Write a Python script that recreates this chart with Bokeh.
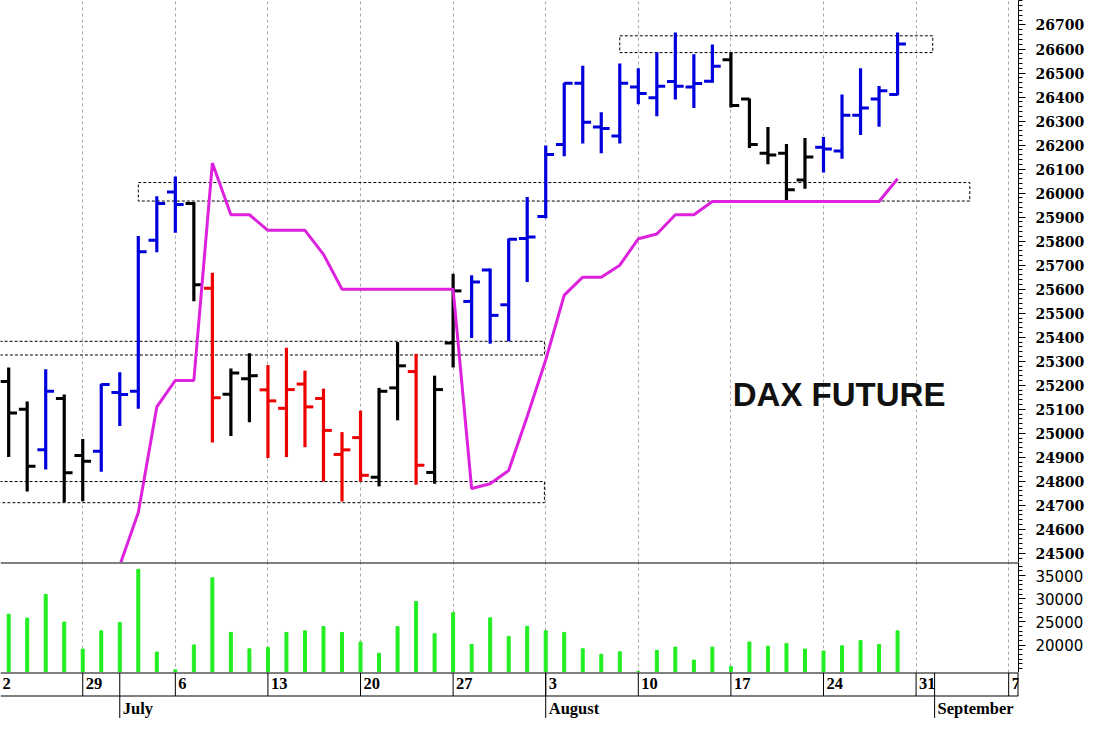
import numpy as np
from bokeh.plotting import figure
from bokeh.models import ColumnDataSource, Range1d, FixedTicker, Grid, Span, Label
from bokeh.layouts import column
from bokeh.core.properties import value
from bokeh.embed import file_html
from bokeh.resources import INLINE

# ---------------- data ----------------
# trading-session index: 0 = Monday 22 June, 5 trading days per week
session = list(range(1, 50))  # 23 June .. 28 August

open_ = [25216, 25100, 24931, 25145, 24908, 24925, 25170, 25175, 25804, 26005,
         25957, 25604, 25163, 25227, 25181, 25104, 25205, 25145, 24912, 24982,
         24817, 25189, 25257, 24837, 25376, 25549, 25680, 25535, 25811, 25903,
         26202, 26457, 26275, 26238, 26442, 26397, 26465, 26442, 26466, 26555,
         26392, 26166, 26166, 26055, 26191, 26175, 26324, 26392, 26411]
high = [25274, 25132, 25267, 25162, 24976, 25206, 25254, 25821, 25987, 26069,
        25963, 25668, 25270, 25333, 25284, 25356, 25261, 25186, 25005, 25094,
        25189, 25380, 25331, 25240, 25664, 25658, 25686, 25811, 25984, 26198,
        26460, 26530, 26337, 26540, 26520, 26587, 26669, 26578, 26619, 26587,
        26394, 26275, 26204, 26229, 26234, 26411, 26520, 26446, 26669]
low = [24901, 24758, 24849, 24713, 24717, 24840, 25030, 25102, 25754, 25835,
       25550, 24962, 24989, 25046, 24897, 24901, 24942, 24799, 24716, 24799,
       24779, 25054, 24786, 24790, 25274, 25397, 25373, 25383, 25630, 25895,
       26153, 26207, 26166, 26207, 26370, 26320, 26390, 26354, 26460, 26357,
       26188, 26120, 25971, 26018, 26086, 26143, 26242, 26276, 26408]
close = [25084, 24863, 25175, 24836, 24884, 25203, 25162, 25756, 25957, 25953,
         25618, 25148, 25251, 25240, 25135, 25182, 25110, 25012, 24931, 24825,
         25175, 25281, 24867, 25182, 25593, 25630, 25491, 25808, 25817, 26161,
         26457, 26295, 26269, 26457, 26415, 26445, 26445, 26456, 26528, 26365,
         26202, 26159, 26014, 26150, 26184, 26324, 26354, 26426, 26621]

K, B, R = "black", "blue", "red"
trend = [K, K, B, K, K, B, B, B, B, B,
         K, R, K, K, R, R, R, R, R, R,
         K, K, R, K, K, B, B, B, B, B,
         B, B, B, B, B, B, B, B, B, K,
         K, K, K, K, B, B, B, B, B]

volume = [26670, 25830, 30940, 24990, 19160, 23090, 24900, 36350, 18530, 14680,
          20060, 34520, 22740, 19220, 19520, 22740, 23090, 24000, 22740, 20690,
          18250, 24000, 29400, 22460, 27010, 20150, 25890, 21890, 24060, 23090,
          22740, 19220, 18040, 18590, 14320, 18880, 19580, 16780, 19580, 15370,
          20690, 19790, 20360, 19160, 18740, 19850, 20990, 20150, 23090]

stop_session = list(range(7, 50))
stop_level = [24450, 24670, 25110, 25220, 25220, 26125, 25910, 25910, 25845, 25845,
              25845, 25745, 25600, 25600, 25600, 25600, 25600, 25600, 25600, 24770,
              24790, 24845, 25070, 25305, 25575, 25650, 25650, 25700, 25810, 25830,
              25910, 25910, 25965, 25965, 25965, 25965, 25965, 25965, 25965, 25965,
              25965, 25965, 26060]

zone_start = [8.0, 34.0, -3.0, -3.0]
zone_end = [52.9, 50.9, 29.93, 29.93]
zone_low = [25967, 26585, 25326, 24711]
zone_high = [26044, 26655, 25383, 24799]

week_idx = [0, 5, 10, 15, 20, 25, 30, 35, 40, 45, 50, 55]
# first week label is only partly visible in the original ("2" of "22")
week_labels = ["2", "29", "6", "13", "20", "27", "3", "10", "17", "24", "31", "7"]
month_idx = [7, 30, 51]
month_labels = ["July", "August", "September"]

price_ticks = list(range(24500, 26701, 100))
volume_ticks = [20000, 25000, 30000, 35000]

# ---------------- styling ----------------
COLORS = {"black": "#000000", "blue": "#0000DC", "red": "#EE0000"}
MAGENTA = "#DD22DD"
GREEN = "#22EE22"
GRID = "#A8A8A8"
FRAME_W = 1018
RIGHT = 70
TICK = 0.45
P_LO, P_HI = 24462, 26802
V_LO, V_HI = 14109, 37820
X0, X1 = 0.559, 55.53
PX_PER_IDX = FRAME_W / (X1 - X0)

xr = Range1d(X0, X1)

common = dict(x_range=xr, x_axis_location=None, toolbar_location=None,
              output_backend="svg", min_border_left=0, min_border_top=0,
              min_border_bottom=0, min_border_right=RIGHT, frame_width=FRAME_W)

src = ColumnDataSource(dict(
    x=session, o=open_, h=high, l=low, c=close,
    xl=list(np.array(session) - TICK), xr=list(np.array(session) + TICK),
    color=[COLORS[t] for t in trend], vol=volume))


def week_grid():
    return Grid(dimension=0, ticker=FixedTicker(ticks=week_idx),
                grid_line_color=GRID, grid_line_dash="3 3", grid_line_width=1)


def style_axis(ax, font, bold, size):
    ax.axis_line_color = "black"
    ax.major_tick_line_color = "black"
    ax.minor_tick_line_color = "black"
    ax.major_tick_out = 7
    ax.major_tick_in = 0
    ax.minor_tick_out = 4
    ax.minor_tick_in = 0
    ax.major_label_standoff = 10
    ax.major_label_text_font = font
    ax.major_label_text_font_style = "bold" if bold else "normal"
    ax.major_label_text_font_size = size
    ax.major_label_text_color = "black"


# ---------------- price panel ----------------
price = figure(frame_height=562, y_range=Range1d(P_LO, P_HI), y_axis_location="right", **common)
price.outline_line_color = None
price.grid.visible = False
price.add_layout(week_grid())
style_axis(price.yaxis[0], "DejaVu Serif", True, "14px")
price.yaxis[0].ticker = FixedTicker(ticks=price_ticks, minor_ticks=list(range(24460, 26801, 20)))

price.quad(left=zone_start, right=zone_end, bottom=zone_low, top=zone_high,
           fill_color=None, line_color="black", line_width=1, line_dash="3 2")
price.segment(x0="x", y0="l", x1="x", y1="h", line_color="color", line_width=3.2, source=src)
price.segment(x0="xl", y0="o", x1="x", y1="o", line_color="color", line_width=3, source=src)
price.segment(x0="x", y0="c", x1="xr", y1="c", line_color="color", line_width=3, source=src)
price.line(stop_session, stop_level, line_color=MAGENTA, line_width=3)

price.add_layout(Label(x=40.1, y=25160, text="DAX FUTURE", text_font="Liberation Sans",
                       text_font_style="bold", text_font_size="33px", text_color="#111111",
                       text_align="left", text_baseline="middle"))

# ---------------- volume panel ----------------
vol = figure(frame_height=110, y_range=Range1d(V_LO, V_HI), y_axis_location="right", **common)
vol.outline_line_color = None
vol.grid.visible = False
vol.add_layout(week_grid())
style_axis(vol.yaxis[0], "DejaVu Sans", False, "15px")
vol.yaxis[0].ticker = FixedTicker(ticks=volume_ticks, minor_ticks=list(range(15000, 37001, 1000)))
vol.vbar(x="x", top="vol", bottom=V_LO, width=0.16, color=GREEN, source=src)
vol.add_layout(Span(location=V_HI, dimension="width", line_color="black", line_width=2))

# ---------------- date strip ----------------
strip = figure(frame_height=46, y_range=Range1d(0, 46), y_axis_location=None, **common)
strip.outline_line_color = None
strip.grid.visible = False
ROW = 22.5
strip.add_layout(Span(location=46, dimension="width", line_color="black", line_width=2))
strip.add_layout(Span(location=ROW, dimension="width", line_color="black", line_width=1))
strip.segment(x0=week_idx, y0=ROW, x1=week_idx, y1=46, line_color="black", line_width=1)
strip.segment(x0=month_idx, y0=0, x1=month_idx, y1=46, line_color="black", line_width=1)
strip.segment(x0=[xr.end], y0=[ROW], x1=[xr.end], y1=[46], line_color="black", line_width=2)

label_style = dict(text_align="left", text_baseline="middle",
                   text_font=value("Liberation Serif"), text_font_style="bold",
                   text_font_size=value("16.5px"), text_color="black")
# first (partial) week label sits just inside the left edge
first_offset = (X0 - week_idx[0]) * PX_PER_IDX + 2
strip.text(x=week_idx[:1], y=35, text=week_labels[:1], x_offset=first_offset, **label_style)
strip.text(x=week_idx[1:], y=35, text=week_labels[1:], x_offset=3, **label_style)
strip.text(x=month_idx, y=10.5, text=month_labels, x_offset=3, **label_style)

layout = column(price, vol, strip, spacing=0)
open("out.html", "w").write(file_html(layout, INLINE))
